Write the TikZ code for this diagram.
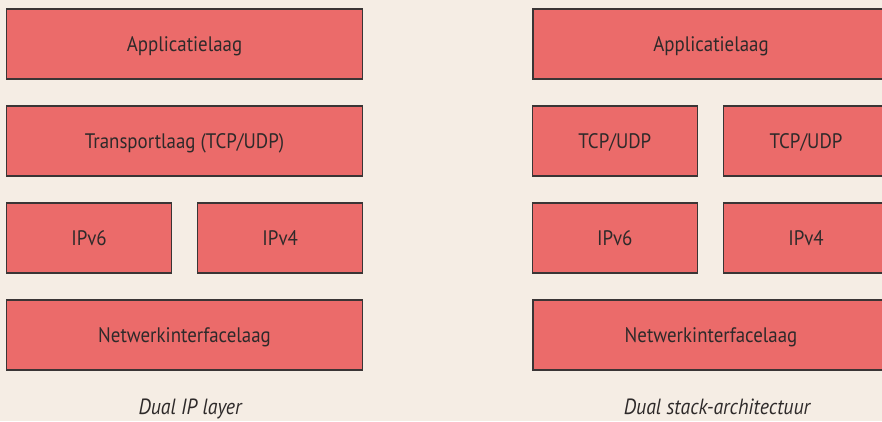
\documentclass[tikz,border=0pt]{standalone}
\usepackage{fontspec}
\setmainfont{PT Sans}[FakeStretch=0.9]
\definecolor{paper}{HTML}{F5EDE4}
\definecolor{layerfill}{HTML}{EB6B6A}
\definecolor{layeredge}{HTML}{3A3535}
\definecolor{ink}{HTML}{2E2A2A}
\tikzset{
  layer/.style={draw=layeredge, fill=layerfill, line width=1.2pt, inner sep=0pt,
    minimum height=70pt, text=ink, text height=14.7pt, text depth=0pt,
    font=\fontsize{21}{25}\selectfont},
  wide/.style={layer, minimum width=356pt},
  half/.style={layer, minimum width=165pt},
  caption/.style={text=ink, anchor=base, font=\fontsize{22}{26}\selectfont\itshape}
}
\begin{document}
\begin{tikzpicture}[x=1pt, y=-1pt]
  \useasboundingbox (0,0) rectangle (882,421);
  \fill[paper] (0,0) rectangle (882,421);
  \clip (0,0) rectangle (882,421);

  % Dual IP layer stack
  \node[wide] (appL) at (184.5,44) {Applicatielaag};
  \node[wide] (transL) at (184.5,141) {Transportlaag (TCP/UDP)};
  \node[half] (v6L) at (89,238) {IPv6};
  \node[half] (v4L) at (280.2,238) {IPv4};
  \node[wide] (netL) at (184.5,335) {Netwerkinterfacelaag};
  \node[caption] (capL) at (190,414) {Dual IP layer};

  % Dual stack architecture
  \node[wide] (appR) at (711,44) {Applicatielaag};
  \node[half] (tcpA) at (614.8,141) {TCP/UDP};
  \node[half] (tcpB) at (806,141) {TCP/UDP};
  \node[half] (v6R) at (614.8,238) {IPv6};
  \node[half] (v4R) at (806,238) {IPv4};
  \node[wide] (netR) at (711,335) {Netwerkinterfacelaag};
  \node[caption] (capR) at (717,414) {Dual stack-architectuur};
\end{tikzpicture}
\end{document}
